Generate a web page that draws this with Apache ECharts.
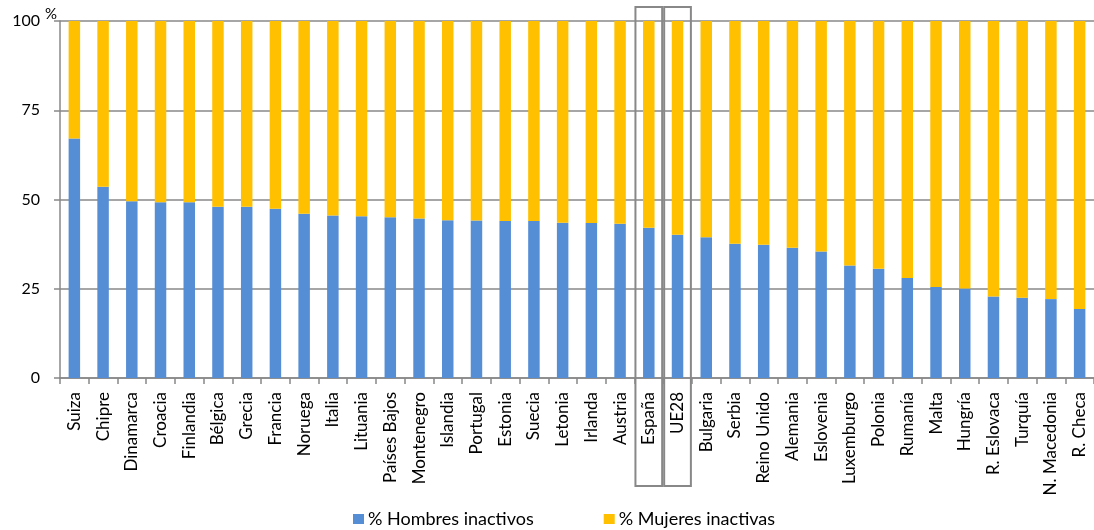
<!DOCTYPE html>
<html>
<head>
<meta charset="utf-8">
<script src="https://cdn.jsdelivr.net/npm/echarts@6/dist/echarts.min.js"></script>
<style>
  html, body { margin: 0; padding: 0; background: #fff; }
  #chart { width: 1094px; height: 530px; }
</style>
</head>
<body>
<div id="chart"></div>
<script>
const categories = ['Suiza','Chipre','Dinamarca','Croacia','Finlandia','Bélgica','Grecia','Francia','Noruega','Italia','Lituania','Países Bajos','Montenegro','Islandia','Portugal','Estonia','Suecia','Letonia','Irlanda','Austria','España','UE28','Bulgaria','Serbia','Reino Unido','Alemania','Eslovenia','Luxemburgo','Polonia','Rumanía','Malta','Hungría','R. Eslovaca','Turquía','N. Macedonia','R. Checa'];
const hombres = [67.1,53.6,49.5,49.2,49.2,48.0,48.0,47.4,46.0,45.5,45.3,45.0,44.7,44.2,44.1,44.0,44.0,43.5,43.4,43.2,42.1,40.1,39.4,37.6,37.3,36.5,35.4,31.5,30.6,28.0,25.5,25.1,22.8,22.5,22.1,19.3];
const mujeres = [32.9,46.4,50.5,50.8,50.8,52.0,52.0,52.6,54.0,54.5,54.7,55.0,55.3,55.8,55.9,56.0,56.0,56.5,56.6,56.8,57.9,59.9,60.6,62.4,62.7,63.5,64.6,68.5,69.4,72.0,74.5,74.9,77.2,77.5,77.9,80.7];
const yTicks = [0, 25, 50, 75, 100];
const highlighted = ['España', 'UE28'];

const FONT = 'Lato';
const chart = echarts.init(document.getElementById('chart'), null, { renderer: 'canvas' });
const option = {
  animation: false,
  textStyle: { fontFamily: FONT },
  grid: { left: 60, right: -8, top: 21, bottom: 152, containLabel: false },
  legend: {
    left: 348, top: 505,
    itemWidth: 11, itemHeight: 10, itemGap: 70,
    icon: 'rect',
    textStyle: { fontFamily: FONT, fontSize: 18, color: '#000', padding: [0, 0, 0, -1] },
    data: ['% Hombres inactivos', '% Mujeres inactivas']
  },
  xAxis: {
    type: 'category',
    data: categories,
    axisLine: { lineStyle: { color: '#888', width: 1.5 } },
    axisTick: { show: true, interval: 0, length: 6, lineStyle: { color: '#888', width: 1.5 } },
    axisLabel: { interval: 0, rotate: 90, margin: 14, fontFamily: FONT, fontSize: 17, color: '#000' }
  },
  yAxis: {
    type: 'value',
    min: yTicks[0], max: yTicks[yTicks.length - 1], interval: 25,
    name: '%',
    nameLocation: 'end',
    nameGap: -1,
    nameMoveOverlap: false,
    nameTextStyle: { fontFamily: FONT, fontSize: 15, color: '#000', align: 'right', verticalAlign: 'bottom', padding: [0, 3, 0, 0] },
    axisLine: { show: true, lineStyle: { color: '#888', width: 1.5 } },
    axisTick: { show: true, length: 6, lineStyle: { color: '#888', width: 1.5 } },
    axisLabel: { margin: 20, fontFamily: FONT, fontSize: 16, color: '#000' },
    splitLine: { show: true, lineStyle: { color: '#888', width: 1.5 } }
  },
  series: [
    { name: '% Hombres inactivos', type: 'bar', stack: 'total', barWidth: '40%', data: hombres, itemStyle: { color: '#558ED5' } },
    { name: '% Mujeres inactivas', type: 'bar', stack: 'total', barWidth: '40%', data: mujeres, itemStyle: { color: '#FFC000' } }
  ]
};
chart.setOption(option);

// annotation boxes around highlighted categories
const graphics = highlighted.map(function (c) {
  const idx = categories.indexOf(c);
  const x0 = chart.convertToPixel({ xAxisIndex: 0 }, idx);
  const x1 = chart.convertToPixel({ xAxisIndex: 0 }, idx + 1);
  const band = x1 - x0;
  const left = x0 - band / 2 + 1;
  const yTop = chart.convertToPixel({ yAxisIndex: 0 }, 100) - 14;
  return {
    type: 'rect',
    shape: { x: left, y: yTop, width: band - 2, height: 486 - yTop },
    style: { fill: 'none', stroke: '#888', lineWidth: 2 },
    z: 10
  };
});
chart.setOption({ graphic: graphics });
</script>
</body>
</html>
